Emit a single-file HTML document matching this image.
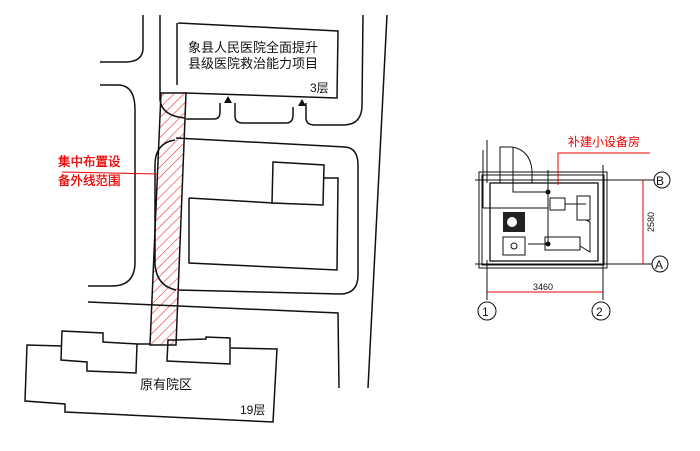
<!DOCTYPE html>
<html><head><meta charset="utf-8"><style>
html,body{margin:0;padding:0;background:#fff;}
svg{display:block;}
text{font-family:"Liberation Sans","Noto Sans CJK SC",sans-serif;}
</style></head><body>
<svg width="700" height="451" viewBox="0 0 700 451" xmlns="http://www.w3.org/2000/svg">
<defs>
<pattern id="h" patternUnits="userSpaceOnUse" width="7" height="7" patternTransform="rotate(45)">
<line x1="0" y1="0" x2="0" y2="7" stroke="#f03030" stroke-width="1.2"/>
</pattern>
</defs>
<g fill="none" stroke="#111" stroke-width="1.5">
<polygon points="161,93 186,93 176,345 150,345" fill="url(#h)" stroke="#111"/>
<path d="M178,23 L338,31 L337,98 L185,93 M177,23 L177,85"/>
<path d="M143,15 L143,48 Q143,62 125,62 L100,62"/>
<path d="M100,85 L118,85 Q135,85 135,110 L135,262 Q135,286 112,286 L88,286"/>
<path d="M160,15 L160,100 Q162,116 185,118"/>
<path d="M186,119 L214,119 Q220,119 220,112 L220,103"/>
<path d="M235,103 L235,116 Q235,123 243,123 L286,123 Q293,123 293,115 L293,107"/>
<path d="M306,103 L306,118 Q306,125 315,125 L345,125 Q362,124 362,105 L363,15"/>
<path d="M387,15 L368,388"/>
<path d="M176,138 L345,147 Q358,148 358,165 L358,275 Q358,294 340,294 L178,290"/>
<path d="M175,140 Q155,143 155,165 L155,265 Q157,286 176,290"/>
<path d="M189,198 L189,263 L337,270 L338,178 L324,178 M189,198 L273,203"/>
<path d="M273,162 L324,165 L323,205 L272,203 Z"/>
<path d="M88,302 L338,313 L339,388"/>
<path d="M62,346 L27,345 L25,401 L65,404 L65,412 L273,422 L277,349 L231,348"/>
<path d="M62,331 L103,333 L103,342 L137,344 L136,373 L87,371 L87,362 L61,360 Z"/>
<path d="M137,344 L150,344 M175,340 L206,339 L206,337 L230,338 L230,364 L167,361 L168,340 L176,340"/>
</g>
<polygon points="228,96 224,103 232,103" fill="#111"/>
<polygon points="302,99 298,106 306,106" fill="#111"/>
<text x="188" y="52" font-size="13" fill="#111">象县人民医院全面提升</text>
<text x="188" y="68" font-size="13" fill="#111">县级医院救治能力项目</text>
<text x="310" y="92" font-size="12" fill="#111">3层</text>
<text x="140" y="389" font-size="13" fill="#111">原有院区</text>
<text x="240" y="414" font-size="12" fill="#111">19层</text>
<text x="58" y="166" font-size="12.5" fill="#e00" stroke="#e00" stroke-width="0.3">集中布置设</text>
<text x="58" y="185" font-size="12.5" fill="#e00" stroke="#e00" stroke-width="0.3">备外线范围</text>
<line x1="62" y1="172" x2="158" y2="174" stroke="#e00" stroke-width="1"/>

<g fill="none" stroke="#111" stroke-width="1">
<rect x="479" y="172" width="128" height="96"/>
<rect x="482" y="175" width="122" height="90"/>
<rect x="490" y="183" width="108" height="78" stroke-width="1.3"/>
<line x1="475" y1="180" x2="655" y2="180"/>
<line x1="475" y1="264" x2="652" y2="264"/>
<line x1="487" y1="260" x2="487" y2="300"/>
<line x1="603" y1="165" x2="603" y2="300"/>
<circle cx="662" cy="180" r="8"/>
<circle cx="660" cy="264" r="8"/>
<circle cx="487" cy="311" r="9"/>
<circle cx="601" cy="311" r="9"/>
<path d="M500,183 L500,147 L512,147 Q530,150 532,170 L532,183"/>
<line x1="513" y1="147" x2="513" y2="183"/>
<line x1="483" y1="150" x2="483" y2="208"/>
<line x1="487" y1="140" x2="487" y2="183"/>
<path d="M483,208 L548,208 M548,170 L548,244 M528,244 L548,244 M513,183 L513,192 L548,192"/>
<rect x="550" y="198" width="15" height="12"/>
<rect x="577" y="196" width="13" height="24"/>
<rect x="545" y="237" width="35" height="13"/>
<path d="M565,204 L586,204 M586,220 L590,222 L590,252 L580,246"/>
<rect x="503" y="237" width="22" height="18"/>
<circle cx="514" cy="246" r="3"/>
</g>
<rect x="503" y="212" width="22" height="20" fill="#222"/>
<circle cx="512" cy="222" r="5" fill="#fff"/>
<circle cx="548" cy="192" r="2.5" fill="#111"/>
<circle cx="548" cy="244" r="2.5" fill="#111"/>
<g font-size="12" fill="#111">
<text x="656" y="185">B</text>
<text x="655" y="269">A</text>
<text x="482" y="316">1</text>
<text x="596" y="316">2</text>
</g>
<g stroke="#e00" stroke-width="1" fill="none">
<line x1="487" y1="292" x2="603" y2="292"/>
<line x1="643" y1="180" x2="643" y2="264"/>
<path d="M558,185 L558,153 L650,153"/>
</g>
<text x="533" y="290" font-size="9" fill="#111">3460</text>
<text x="0" y="0" font-size="9" fill="#111" transform="translate(654,232) rotate(-90)">2580</text>
<text x="568" y="146" font-size="12" fill="#e00">补建小设备房</text>
</svg>
</body></html>
